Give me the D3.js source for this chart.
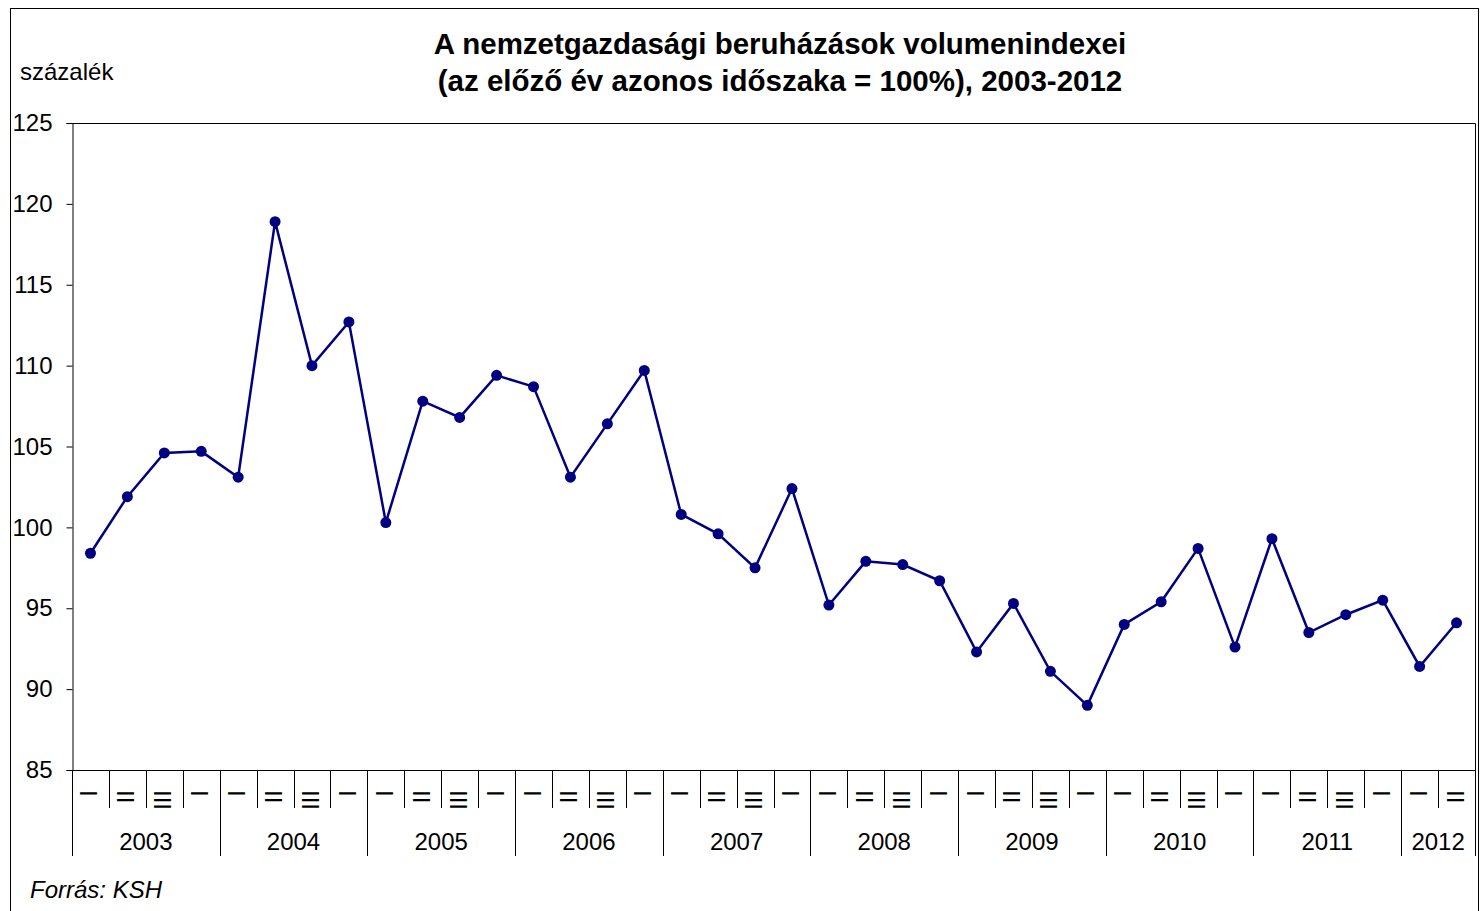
<!DOCTYPE html>
<html>
<head>
<meta charset="utf-8">
<script src="https://cdn.jsdelivr.net/npm/d3@7"></script>
<style>
  html, body { margin: 0; padding: 0; background: #fff; }
  svg { display: block; font-family: Arial, "Liberation Sans", sans-serif; }
</style>
</head>
<body>
<svg id="chart" width="1481" height="911"></svg>
<script>
// chart data
const years = [2003, 2004, 2005, 2006, 2007, 2008, 2009, 2010, 2011, 2012];
const quarterLabels = ['I', 'II', 'III', 'IV'];
const yTicks = [85, 90, 95, 100, 105, 110, 115, 120, 125];
const values = [
  98.4, 101.9, 104.6, 104.7,   // 2003
  103.1, 118.9, 110.0, 112.7,  // 2004
  100.3, 107.8, 106.8, 109.4,  // 2005
  108.7, 103.1, 106.4, 109.7,  // 2006
  100.8, 99.6, 97.5, 102.4,    // 2007
  95.2, 97.9, 97.7, 96.7,      // 2008
  92.3, 95.3, 91.1, 89.0,      // 2009
  94.0, 95.4, 98.7, 92.6,      // 2010
  99.3, 93.5, 94.6, 95.5,      // 2011
  91.4, 94.1                   // 2012
];
const titleLines = [
  'A nemzetgazdasági beruházások volumenindexei',
  '(az előző év azonos időszaka = 100%), 2003-2012'
];

// periods = year x quarter, cut to the number of values
const periods = [];
years.forEach(yr => quarterLabels.forEach((q, qi) => periods.push({ year: yr, q, qi })));
periods.length = values.length;
periods.forEach((p, i) => { p.key = p.year + '-' + p.q; p.value = values[i]; });

const svg = d3.select('#chart');
const plot = { left: 72, right: 1475, top: 123, bottom: 770 };
const navy = '#000080';

// outer frame
svg.append('rect')
  .attr('x', 10.5).attr('y', 8.5)
  .attr('width', 1468).attr('height', 930)
  .attr('fill', 'none').attr('stroke', '#000').attr('stroke-width', 1);

const x = d3.scaleBand().domain(periods.map(p => p.key)).range([plot.left, plot.right]).padding(0);
const y = d3.scaleLinear().domain([85, 125]).range([plot.bottom, plot.top]);

// title
svg.append('text')
  .attr('text-anchor', 'middle')
  .attr('font-size', 29.5).attr('font-weight', 'bold')
  .selectAll('tspan').data(titleLines).join('tspan')
  .attr('x', 780).attr('y', (d, i) => 54 + i * 37)
  .text(d => d);

svg.append('text').attr('x', 20).attr('y', 80).attr('font-size', 24).text('százalék');
svg.append('text').attr('x', 30).attr('y', 898).attr('font-size', 24)
  .attr('font-style', 'italic').text('Forrás: KSH');

// plot frame top + right
svg.append('path')
  .attr('d', `M${plot.left},${plot.top + 0.5}H${plot.right + 0.5}V${plot.bottom}`)
  .attr('fill', 'none').attr('stroke', '#000');

// y axis
const yAxis = svg.append('g')
  .attr('transform', `translate(${plot.left + 0.5},0)`)
  .call(d3.axisLeft(y).tickValues(yTicks).tickSize(6).tickPadding(14).tickFormat(d3.format('d')));
yAxis.select('.domain').attr('stroke', '#000');
yAxis.selectAll('.tick line').attr('stroke', '#000');
yAxis.selectAll('.tick text').attr('font-size', 24).attr('font-family', 'Arial, "Liberation Sans", sans-serif').attr('fill', '#000');

// category axis (quarters + years)
const catAxis = svg.append('g');
catAxis.append('line')
  .attr('x1', plot.left).attr('x2', plot.right + 0.5)
  .attr('y1', plot.bottom + 0.5).attr('y2', plot.bottom + 0.5)
  .attr('stroke', '#000');

const bw = x.bandwidth();
periods.forEach(p => {
  const x0 = Math.round(x(p.key)) + 0.5;
  catAxis.append('line')
    .attr('x1', x0).attr('x2', x0)
    .attr('y1', plot.bottom).attr('y2', p.qi === 0 ? 856 : 808)
    .attr('stroke', '#000');
});
catAxis.append('line')
  .attr('x1', plot.right + 0.5).attr('x2', plot.right + 0.5)
  .attr('y1', plot.bottom).attr('y2', 856)
  .attr('stroke', '#000');

// clip for the IV labels (only the "I" part shows in the cell, as in the source)
svg.append('clipPath').attr('id', 'qclip')
  .append('rect').attr('x', plot.left).attr('y', plot.bottom + 1)
  .attr('width', plot.right - plot.left).attr('height', 25);

const qPlain = catAxis.append('g');
const qClipped = catAxis.append('g').attr('clip-path', 'url(#qclip)');
[[qPlain, periods.filter(p => p.q !== 'IV')], [qClipped, periods.filter(p => p.q === 'IV')]]
  .forEach(([g, data]) => {
    g.selectAll('text').data(data).join('text')
      .attr('font-size', 24)
      .attr('transform', d => `translate(${x(d.key) + bw / 2 - 10},790) rotate(90)`)
      .text(d => d.q);
  });

const yearGroups = d3.groups(periods, p => p.year);
catAxis.selectAll('text.year').data(yearGroups).join('text')
  .attr('class', 'year')
  .attr('x', d => {
    const first = d[1][0], last = d[1][d[1].length - 1];
    return (x(first.key) + x(last.key) + bw) / 2;
  })
  .attr('y', 850)
  .attr('text-anchor', 'middle').attr('font-size', 24)
  .text(d => d[0]);

// series
const line = d3.line().x(d => x(d.key) + bw / 2).y(d => y(d.value));
svg.append('path').datum(periods)
  .attr('d', line).attr('fill', 'none')
  .attr('stroke', navy).attr('stroke-width', 2.5).attr('stroke-linejoin', 'miter');

svg.selectAll('circle.pt').data(periods).join('circle')
  .attr('class', 'pt')
  .attr('cx', d => x(d.key) + bw / 2).attr('cy', d => y(d.value))
  .attr('r', 5.5).attr('fill', navy);
</script>
</body>
</html>
